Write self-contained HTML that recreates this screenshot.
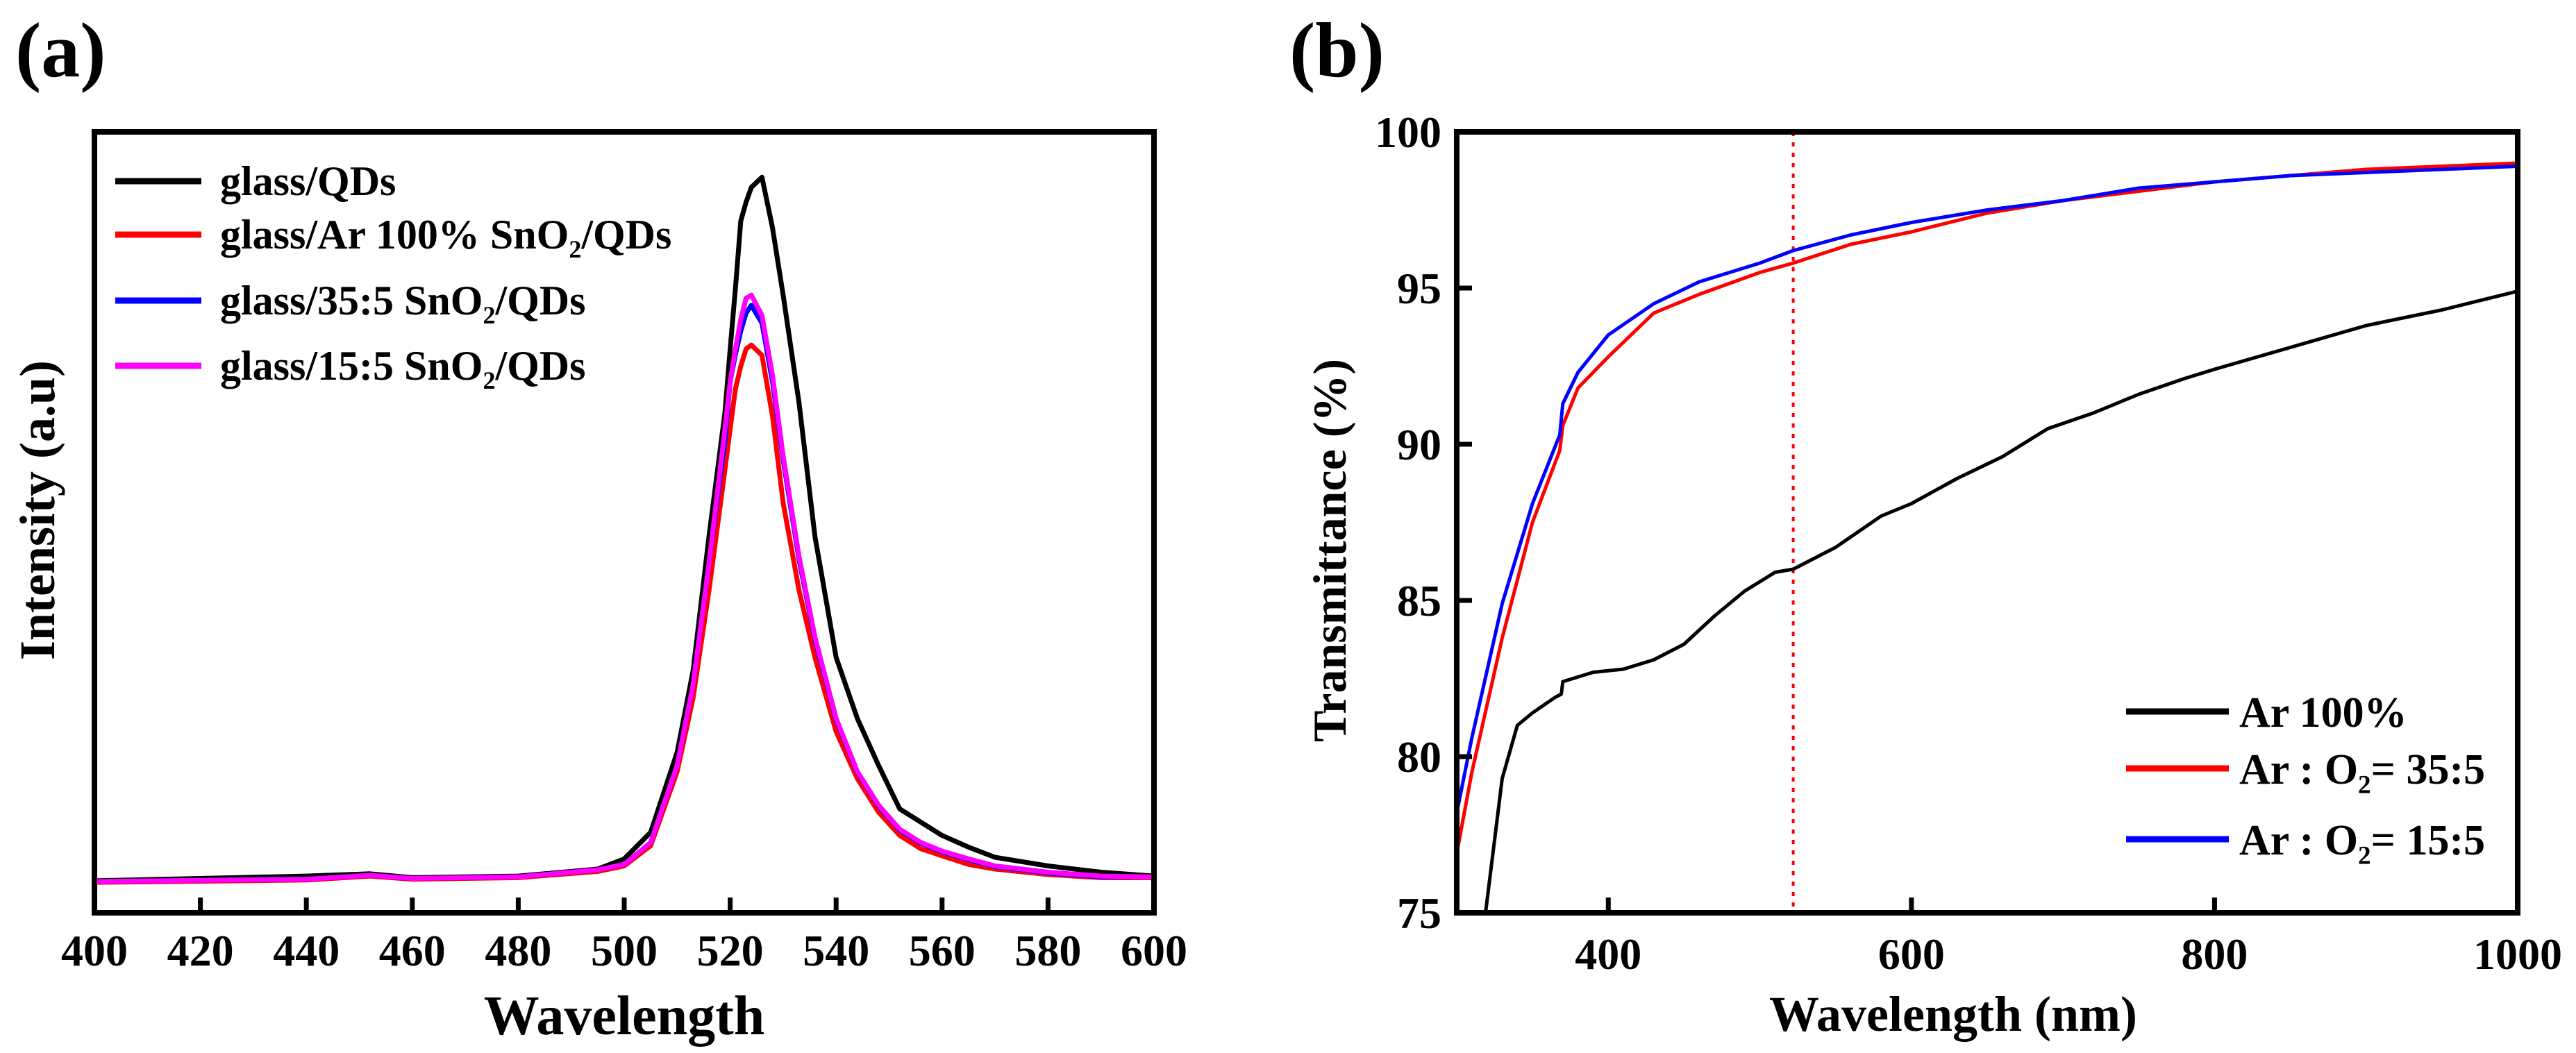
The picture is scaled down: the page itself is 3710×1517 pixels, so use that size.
<!DOCTYPE html>
<html><head><meta charset="utf-8"><style>
html,body{margin:0;padding:0;background:#fff;}
svg{display:block;font-family:"Liberation Serif",serif;font-weight:bold;}
</style></head><body>
<svg id="fig" width="3710" height="1517" viewBox="0 0 3710 1517" xmlns="http://www.w3.org/2000/svg">
<g id="pa"></g>
<g id="pb"></g>
</svg>
<script>
// ---------- Panel (a) data ----------
const aWl = [400,440,452,460,480,495,500,505,510,513,516,519,520,521,522,523,524,526,528,530,533,536,540,544,548,552,556,560,565,570,580,590,600];
const aBlack = [0.041,0.047,0.050,0.045,0.047,0.056,0.069,0.103,0.206,0.310,0.482,0.640,0.722,0.800,0.886,0.910,0.929,0.942,0.877,0.791,0.653,0.482,0.327,0.249,0.189,0.133,0.116,0.099,0.084,0.071,0.060,0.052,0.047];
const aRed = [0.039,0.042,0.047,0.043,0.045,0.053,0.060,0.086,0.181,0.275,0.413,0.567,0.620,0.671,0.700,0.722,0.727,0.714,0.636,0.525,0.413,0.327,0.232,0.172,0.129,0.099,0.082,0.073,0.062,0.056,0.049,0.045,0.045];
const aBlue = [0.040,0.043,0.048,0.044,0.046,0.055,0.062,0.090,0.189,0.292,0.447,0.605,0.680,0.715,0.745,0.768,0.778,0.755,0.680,0.580,0.452,0.350,0.247,0.180,0.137,0.106,0.089,0.078,0.068,0.059,0.051,0.046,0.046];
const aMag = [0.040,0.043,0.048,0.044,0.046,0.055,0.062,0.090,0.189,0.292,0.447,0.619,0.680,0.722,0.760,0.787,0.791,0.765,0.688,0.585,0.456,0.353,0.249,0.181,0.138,0.107,0.090,0.079,0.069,0.060,0.052,0.047,0.046];
const aTicks = [400,420,440,460,480,500,520,540,560,580,600];
const aLegend = ["glass/QDs","glass/Ar 100% SnO|/QDs","glass/35:5 SnO|/QDs","glass/15:5 SnO|/QDs"];
// ---------- Panel (b) data ----------
const bBlackWl = [319,330,340,350,365,369,370,390,410,430,450,470,490,510,522,550,580,600,630,660,690,720,750,780,800,850,900,950,1000];
const bBlack = [75.0,79.3,81.0,81.4,81.9,82.0,82.4,82.7,82.8,83.1,83.6,84.5,85.3,85.9,86.0,86.7,87.7,88.1,88.9,89.6,90.5,91.0,91.6,92.1,92.4,93.1,93.8,94.3,94.9];
const bWl = [300,310,330,350,368,370,380,400,430,460,500,522,560,600,650,700,750,800,850,900,950,1000];
const bRed = [76.9,79.5,83.8,87.5,89.8,90.6,91.8,92.8,94.2,94.8,95.5,95.8,96.4,96.8,97.4,97.8,98.1,98.4,98.6,98.8,98.9,99.0];
const bBlue = [78.2,80.6,84.9,88.1,90.3,91.3,92.3,93.5,94.5,95.2,95.8,96.2,96.7,97.1,97.5,97.8,98.2,98.4,98.6,98.7,98.8,98.9];
const bXTicks = [400,600,800,1000];
const bYTicks = [75,80,85,90,95,100];
const bMarker = [522];
const bLegend = ["Ar 100%","Ar : O|= 35:5","Ar : O|= 15:5"];

const NS="http://www.w3.org/2000/svg";
function mk(parent,tag,attrs){const e=document.createElementNS(NS,tag);for(const k in attrs)e.setAttribute(k,attrs[k]);parent.appendChild(e);return e;}
function path(xs,ys,fx,fy){return xs.map((x,i)=>(i?'L':'M')+fx(x).toFixed(1)+' '+fy(ys[i]).toFixed(1)).join(' ');}
function subText(g,x,y,str,size,anchor){
  const t=mk(g,'text',{x:x,y:y,'font-size':size,'text-anchor':anchor||'start'});
  const parts=str.split('|');
  t.appendChild(document.createTextNode(parts[0]));
  if(parts.length>1){
    const s=mk(t,'tspan',{'font-size':size*0.6,dy:size*0.22});
    s.textContent='2';
    const r=mk(t,'tspan',{dy:-size*0.22});
    r.textContent=parts[1];
  }
  return t;
}

// ---------- Panel A ----------
(function(){
  const g=document.getElementById('pa');
  const L=136,R=1662,T=190,B=1315;
  const fx=w=>L+(w-400)/200*(R-L);
  const fy=v=>B-v*(B-T);
  let t=mk(g,'text',{x:22,y:110,'font-size':112});t.textContent='(a)';
  
  
  const cols=['#000','#ff0000','#0000ff','#ff00ff'];
  const ser=[aBlack,aRed,aBlue,aMag];
  ser.forEach((s,i)=>{
    const p=mk(g,'path',{d:path(aWl,s,fx,fy),fill:'none',stroke:cols[i],'stroke-width':7,'stroke-linejoin':'round'});
    
    
  });
  aTicks.forEach(w=>{
    const tk=mk(g,'line',{x1:fx(w),x2:fx(w),y1:B,y2:B-22,stroke:'#000','stroke-width':7});
    
    
    const lb=mk(g,'text',{x:fx(w),y:1391,'font-size':64,'text-anchor':'middle'});lb.textContent=w;
    
    
  });
  const fr=mk(g,'rect',{x:L,y:T,width:R-L,height:B-T,fill:'none',stroke:'#000','stroke-width':8});
  
  
  t=mk(g,'text',{x:(L+R)/2,y:1490,'font-size':80,'text-anchor':'middle'});t.textContent='Wavelength';
  
  
  t=mk(g,'text',{x:0,y:0,'font-size':72,'text-anchor':'middle',transform:'translate(78,735) rotate(-90)'});t.textContent='Intensity (a.u)';
  
  
  const ly=[261,338,433,527];
  aLegend.forEach((s,i)=>{
    const ln=mk(g,'line',{x1:166,x2:290,y1:ly[i],y2:ly[i],stroke:cols[i],'stroke-width':9});
    
    
    const tx=subText(g,317,ly[i]+20,s,60);
    
    
  });
})();

// ---------- Panel B ----------
(function(){
  const g=document.getElementById('pb');
  const L=2098,R=3626,T=190,B=1315;
  const fx=w=>L+(w-300)/700*(R-L);
  const fy=v=>B-(v-75)/25*(B-T);
  let t=mk(g,'text',{x:1857,y:110,'font-size':112});t.textContent='(b)';
  
  
  bMarker.forEach(w=>{
    const m=mk(g,'line',{x1:fx(w),x2:fx(w),y1:T,y2:B,stroke:'#ff0000','stroke-width':4,'stroke-dasharray':'6 9'});
    
    
  });
  const defs=mk(g,'clipPath',{id:'cb'});mk(defs,'rect',{x:L,y:T,width:R-L,height:B-T});
  let p=mk(g,'path',{d:path(bBlackWl,bBlack,fx,fy),fill:'none',stroke:'#000','stroke-width':5,'clip-path':'url(#cb)','stroke-linejoin':'round'});
  
  
  p=mk(g,'path',{d:path(bWl,bRed,fx,fy),fill:'none',stroke:'#ff0000','stroke-width':5,'clip-path':'url(#cb)','stroke-linejoin':'round'});
  
  
  p=mk(g,'path',{d:path(bWl,bBlue,fx,fy),fill:'none',stroke:'#0000ff','stroke-width':5,'clip-path':'url(#cb)','stroke-linejoin':'round'});
  
  
  bXTicks.forEach(w=>{
    const tk=mk(g,'line',{x1:fx(w),x2:fx(w),y1:B,y2:B-22,stroke:'#000','stroke-width':7});
    
    
    const lb=mk(g,'text',{x:fx(w),y:1396,'font-size':64,'text-anchor':'middle'});lb.textContent=w;
    
    
  });
  bYTicks.forEach(v=>{
    const tk=mk(g,'line',{x1:L,x2:L+22,y1:fy(v),y2:fy(v),stroke:'#000','stroke-width':7});
    
    
    const lb=mk(g,'text',{x:2076,y:fy(v)+22,'font-size':64,'text-anchor':'end'});lb.textContent=v;
    
    
  });
  const fr=mk(g,'rect',{x:L,y:T,width:R-L,height:B-T,fill:'none',stroke:'#000','stroke-width':8});
  
  
  t=mk(g,'text',{x:2813,y:1485,'font-size':72,'text-anchor':'middle'});t.textContent='Wavelength (nm)';
  
  
  t=mk(g,'text',{x:0,y:0,'font-size':68,'text-anchor':'middle',transform:'translate(1938,793) rotate(-90)'});t.textContent='Transmittance (%)';
  
  
  const ly=[1025,1107,1209];
  const cols=['#000','#ff0000','#0000ff'];
  bLegend.forEach((s,i)=>{
    const ln=mk(g,'line',{x1:3062,x2:3210,y1:ly[i],y2:ly[i],stroke:cols[i],'stroke-width':9});
    
    
    const tx=subText(g,3225,ly[i]+22,s,62);
    
    
  });
})();
</script>
</body></html>
